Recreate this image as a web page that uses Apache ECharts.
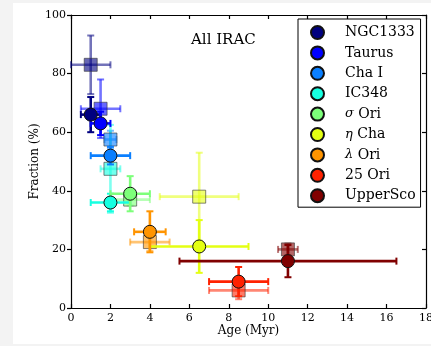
<!DOCTYPE html>
<html>
<head>
<meta charset="utf-8">
<script src="https://cdn.jsdelivr.net/npm/echarts@6/dist/echarts.min.js"></script>
<style>
  html, body { margin: 0; padding: 0; background: #f3f3f3; width: 431px; height: 346px; overflow: hidden; }
  #chart { position: absolute; left: 13px; top: 3px; width: 418px; height: 341px; background: #ffffff; }
</style>
</head>
<body>
<div id="chart"></div>
<script>
// ---- data ----
const names = ['NGC1333', 'Taurus', 'Cha I', 'IC348', 'σ Ori', 'η Cha', 'λ Ori', '25 Ori', 'UpperSco'];
const colors = ['#000080', '#0000ff', '#0a7fff', '#16ffe1', '#7dff7a', '#e4ff13', '#ff9400', '#ff2200', '#800000'];

// All IRAC (circles)
const circAge     = [1, 1.5, 2, 2, 3, 6.5, 4, 8.5, 11];
const circFrac    = [66, 63, 52, 36, 39, 21, 26, 9, 16];
const circAgeErr  = [0.5, 0.5, 1, 1, 1, 2.5, 0.8, 1.5, 5.5];
const circFracErr = [6, 4, 3, 3, 6, 9, 7, 5, 5.5];

// translucent squares
const sqAge     = [1, 1.5, 2, 2, 3, 6.5, 4, 8.5, 11];
const sqFrac    = [83, 68, 57.5, 47.5, 37, 38, 22.5, 6, 20];
const sqAgeErr  = [1, 1, 0.3, 0.5, 1, 2, 1, 1.5, 0.5];
const sqFracErr = [10, 10, 3, 15, 2, 15, 3, 3, 2];

const xTicks = { min: 0, max: 18, interval: 2 };
const yTicks = { min: 0, max: 100, interval: 20 };

const FONT = 'DejaVu Serif';

function errRenderer(color, opacity) {
  return function (params, api) {
    const x = api.value(0), y = api.value(1), xe = api.value(2), ye = api.value(3);
    const p0 = api.coord([x - xe, y]), p1 = api.coord([x + xe, y]);
    const q0 = api.coord([x, y - ye]), q1 = api.coord([x, y + ye]);
    const c = 3.5;
    const style = { stroke: color, lineWidth: 2.6, opacity: opacity };
    const capStyle = { stroke: color, lineWidth: 2, opacity: opacity };
    const ln = (a, b, s) => ({ type: 'line', shape: { x1: a[0], y1: a[1], x2: b[0], y2: b[1] }, style: s });
    return {
      type: 'group',
      children: [
        ln(p0, p1, style),
        ln(q0, q1, style),
        ln([p0[0], p0[1] - c], [p0[0], p0[1] + c], capStyle),
        ln([p1[0], p1[1] - c], [p1[0], p1[1] + c], capStyle),
        ln([q0[0] - c, q0[1]], [q0[0] + c, q0[1]], capStyle),
        ln([q1[0] - c, q1[1]], [q1[0] + c, q1[1]], capStyle)
      ]
    };
  };
}

const series = [];
// squares first (behind)
names.forEach((n, i) => {
  const d = [[sqAge[i], sqFrac[i], sqAgeErr[i], sqFracErr[i]]];
  series.push({
    type: 'custom', name: n + ' sq err', renderItem: errRenderer(colors[i], 0.55),
    data: d, encode: { x: 0, y: 1 }, silent: true, z: 2
  });
  series.push({
    type: 'scatter', name: n + ' sq', symbol: 'rect', symbolSize: 13,
    data: [[sqAge[i], sqFrac[i]]],
    itemStyle: { color: colors[i], opacity: 0.6, borderColor: '#333', borderWidth: 1 },
    z: 3
  });
});
names.forEach((n, i) => {
  const d = [[circAge[i], circFrac[i], circAgeErr[i], circFracErr[i]]];
  series.push({
    type: 'custom', name: n + ' err', renderItem: errRenderer(colors[i], 1),
    data: d, encode: { x: 0, y: 1 }, silent: true, z: 4
  });
  series.push({
    type: 'scatter', name: n, symbol: 'circle', symbolSize: 13,
    data: [[circAge[i], circFrac[i]]],
    itemStyle: { color: colors[i], opacity: 1, borderColor: '#111', borderWidth: 1 },
    z: 5
  });
});

const axisLineStyle = { color: '#000', width: 1.2 };
const chart = echarts.init(document.getElementById('chart'));
chart.setOption({
  animation: false,
  backgroundColor: '#ffffff',
  title: {
    text: 'All IRAC', left: 173, top: 25,
    textStyle: { fontFamily: FONT, fontSize: 15, fontWeight: 'normal', color: '#000' }
  },
  grid: { left: 58, top: 12, width: 355, height: 293, containLabel: false, outerBoundsMode: 'none' },
  legend: {
    orient: 'vertical', left: 285, top: 16,
    padding: [6, 5, 4, 12],
    itemWidth: 13, itemHeight: 13, itemGap: 5.4,
    borderColor: '#000', borderWidth: 1, borderRadius: 0, backgroundColor: '#fff',
    data: names,
    textStyle: {
      fontFamily: FONT, fontSize: 14, color: '#000', padding: [0, 0, 0, 16],
      rich: { g: { fontFamily: FONT, fontSize: 13, fontStyle: 'italic', color: '#000' } }
    },
    formatter: n => n.replace(/^([σηλ])/, '{g|$1}')
  },
  xAxis: [{
    type: 'value', min: xTicks.min, max: xTicks.max, interval: xTicks.interval,
    name: 'Age (Myr)', nameLocation: 'middle', nameGap: 17, nameMoveOverlap: false,
    nameTextStyle: { fontFamily: FONT, fontSize: 12, color: '#000' },
    axisLine: { show: true, onZero: false, lineStyle: axisLineStyle },
    axisTick: { show: true, inside: true, length: 4, lineStyle: { color: '#000', width: 1.2 } },
    axisLabel: { fontFamily: FONT, fontSize: 11, color: '#000', margin: 5, showMaxLabel: true, showMinLabel: true },
    splitLine: { show: false }
  }, {
    type: 'value', position: 'top', min: xTicks.min, max: xTicks.max, interval: xTicks.interval,
    axisLine: { show: true, onZero: false, lineStyle: axisLineStyle },
    axisTick: { show: true, inside: true, length: 4, lineStyle: { color: '#000', width: 1.2 } },
    axisLabel: { show: false }, splitLine: { show: false }
  }],
  yAxis: [{
    type: 'value', min: yTicks.min, max: yTicks.max, interval: yTicks.interval,
    name: 'Fraction (%)', nameLocation: 'middle', nameGap: 30, nameMoveOverlap: false,
    nameTextStyle: { fontFamily: FONT, fontSize: 12, color: '#000' },
    axisLine: { show: true, onZero: false, lineStyle: axisLineStyle },
    axisTick: { show: true, inside: false, length: 4, lineStyle: { color: '#000', width: 1.2 } },
    axisLabel: { fontFamily: FONT, fontSize: 11, color: '#000', margin: 5, showMaxLabel: true, showMinLabel: true },
    splitLine: { show: false }
  }, {
    type: 'value', position: 'right', min: yTicks.min, max: yTicks.max, interval: yTicks.interval,
    axisLine: { show: true, onZero: false, lineStyle: axisLineStyle },
    axisTick: { show: true, inside: true, length: 4, lineStyle: { color: '#000', width: 1.2 } },
    axisLabel: { show: false }, splitLine: { show: false }
  }],
  series: series
});
</script>
</body>
</html>
